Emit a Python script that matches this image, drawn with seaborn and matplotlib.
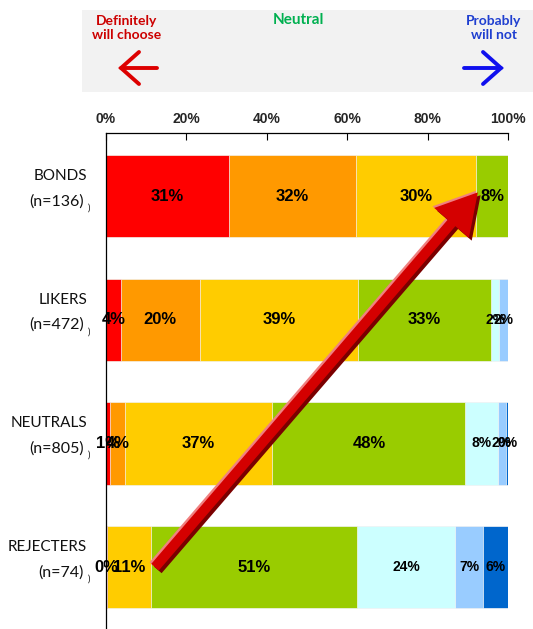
import matplotlib
matplotlib.use("Agg")
import matplotlib.pyplot as plt
import matplotlib.patheffects as pe
from matplotlib.patches import FancyArrowPatch, Rectangle, ArrowStyle
import seaborn as sns

# ---- data -------------------------------------------------------------
groups = ["BONDS", "LIKERS", "NEUTRALS", "REJECTERS"]
sample_sizes = ["(n=136)", "(n=472)", "(n=805)", "(n=74)"]

# share of each answer level per group (percent), from "definitely will choose"
# on the left to "definitely will not" on the right
share_red = [30.6, 3.7, 1.1, 0.3]
share_orange = [31.6, 19.6, 3.6, 0.0]
share_yellow = [29.9, 39.4, 36.7, 10.8]
share_green = [7.9, 33.1, 48.0, 51.4]
share_cyan = [0.0, 2.0, 8.0, 24.2]
share_sky = [0.0, 2.2, 2.2, 7.2]
share_blue = [0.0, 0.0, 0.4, 6.1]

series = [share_red, share_orange, share_yellow, share_green,
          share_cyan, share_sky, share_blue]
colors = ["#FF0000", "#FF9900", "#FFCC00", "#99CC00",
          "#CCFFFF", "#99CCFF", "#0066CC"]
tick_values = [0, 20, 40, 60, 80, 100]
tick_labels = ["0%", "20%", "40%", "60%", "80%", "100%"]

# ---- style ------------------------------------------------------------
sns.set_theme(style="white")
plt.rcParams["font.family"] = ["Lato", "DejaVu Sans"]

label_family = "Liberation Sans"
big_size, small_size = 12, 10

W, H = 533, 629
fig = plt.figure(figsize=(W / 100, H / 100), dpi=100)

# header strip with the answer-scale legend
ov = fig.add_axes([0, 0, 1, 1])
ov.set_xlim(0, W)
ov.set_ylim(H, 0)
ov.axis("off")
ov.patch.set_alpha(0)
ov.add_patch(Rectangle((82, 10), W - 82, 82, facecolor="#F2F2F2", edgecolor="none"))
ov.text(127, 28, "Definitely\nwill choose", color="#CC0000", fontsize=10,
        fontweight="bold", ha="center", va="center", linespacing=1.15)
ov.text(298, 20, "Neutral", color="#00B050", fontsize=11,
        fontweight="bold", ha="center", va="center")
ov.text(494, 28, "Probably\nwill not", color="#1F3FD0", fontsize=10,
        fontweight="bold", ha="center", va="center", linespacing=1.15)
# left arrow (red)
ov.plot([121, 157], [68, 68], color="#DD0000", lw=2.8, solid_capstyle="round")
ov.plot([139, 121, 139], [52, 68, 84], color="#DD0000", lw=2.8,
        solid_capstyle="round", solid_joinstyle="miter")
# right arrow (blue)
ov.plot([464, 501], [68, 68], color="#1010EE", lw=2.8, solid_capstyle="round")
ov.plot([483, 501, 483], [52, 68, 84], color="#1010EE", lw=2.8,
        solid_capstyle="round", solid_joinstyle="miter")

# ---- stacked bars -----------------------------------------------------
ax = fig.add_axes([106 / W, 0, 402 / W, 1 - 133 / H])

cumulative = []
running = [0.0] * len(groups)
for s in series:
    running = [r + v for r, v in zip(running, s)]
    cumulative.append(list(running))

# paint the longest stack first so each shorter one sits on top of it
for cum, col in reversed(list(zip(cumulative, colors))):
    sns.barplot(x=cum, y=groups, orient="y", color=col, saturation=1,
                width=0.665, edgecolor="#f5f5f5", linewidth=0.5, ax=ax)

# percentage labels centred on each segment
for k, (s, cum) in enumerate(zip(series, cumulative)):
    size = big_size if k < 4 else small_size
    for i, v in enumerate(s):
        if v <= 0:
            continue
        ax.text(cum[i] - v / 2, i, f"{round(v)}%", ha="center", va="center",
                fontsize=size, fontweight="bold", family=label_family,
                color="black", zorder=4)

ax.set_xlim(0, 100)
ax.set_ylim(3.5, -0.51)
ax.set_xlabel("")
ax.set_ylabel("")
ax.set_yticks([])
ax.xaxis.tick_top()
ax.set_xticks(tick_values)
ax.set_xticklabels(tick_labels, fontsize=10, fontweight="bold",
                   family="Liberation Sans")
ax.tick_params(axis="x", direction="in", length=5, width=0.8,
               color="black", pad=5, top=True, bottom=False)
for side in ["right", "bottom"]:
    ax.spines[side].set_visible(False)
for side in ["top", "left"]:
    ax.spines[side].set_visible(True)
    ax.spines[side].set_color("black")
    ax.spines[side].set_linewidth(0.9)

# group names with sample sizes
px = 100 / 402       # percent per pixel along x
py = 1 / 123.7       # category units per pixel along y
for i, (g, n) in enumerate(zip(groups, sample_sizes)):
    ax.text(-19 * px, i - 20 * py, g, ha="right", va="center",
            fontsize=11, color="#111111", clip_on=False)
    ax.text(-22 * px, i + 5 * py, n, ha="right", va="center",
            fontsize=11.5, color="#111111", clip_on=False)
    ax.text(-18.5 * px, i + 12 * py, ")", ha="left", va="center",
            fontsize=6.5, color="#111111", clip_on=False)

# trend arrow from the rejecters up to the bonds
arrow = FancyArrowPatch(
    posA=(12.2, 3.0), posB=(92.5, -0.03),
    arrowstyle=ArrowStyle.Simple(head_length=29, head_width=33, tail_width=7.2),
    mutation_scale=1, shrinkA=0, shrinkB=0, transform=ax.transData,
    facecolor="#D40000", edgecolor="none", zorder=6, clip_on=False)
arrow.set_path_effects([
    pe.SimplePatchShadow(offset=(-1.2, 1.2), shadow_rgbFace="#F08080", alpha=1),
    pe.SimplePatchShadow(offset=(2.0, -2.0), shadow_rgbFace="#7A0000", alpha=1),
    pe.Normal(),
])
ax.add_patch(arrow)

fig.savefig("out.png", dpi=100)
